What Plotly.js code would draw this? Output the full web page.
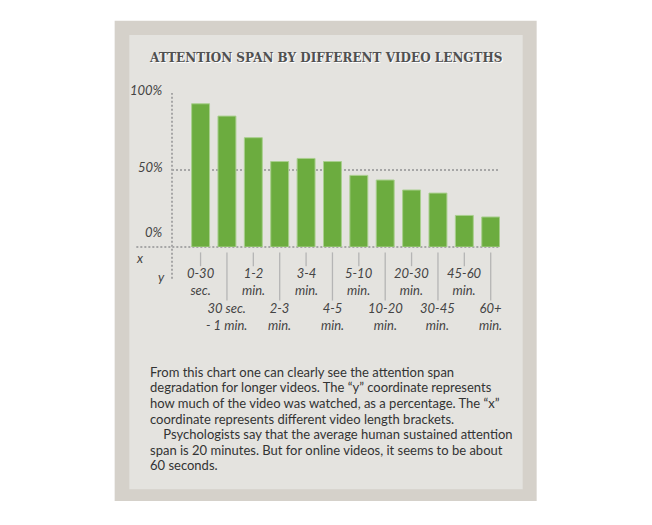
<!DOCTYPE html>
<html>
<head>
<meta charset="utf-8">
<script src="https://cdn.plot.ly/plotly-3.0.1.min.js"></script>
<style>
  html, body { margin: 0; padding: 0; background: #ffffff; }
  #chart { width: 652px; height: 525px; }
</style>
</head>
<body>
<div id="chart"></div>
<script>
// ---- data ----
var categories = ["0-30 sec.", "30 sec. - 1 min.", "1-2 min.", "2-3 min.", "3-4 min.", "4-5 min.",
                  "5-10 min.", "10-20 min.", "20-30 min.", "30-45 min.", "45-60 min.", "60+ min."];
var watchedPct = [93, 85, 71, 55.5, 57.5, 55.5, 46.5, 43.5, 37, 35, 20.5, 19.5];
var labelLine1 = ["0-30", "30 sec.", "1-2", "2-3", "3-4", "4-5", "5-10", "10-20", "20-30", "30-45", "45-60", "60+"];
var labelLine2 = ["sec.", "- 1 min.", "min.", "min.", "min.", "min.", "min.", "min.", "min.", "min.", "min.", "min."];
var yTickVals = [0, 50, 100];
var yTickText = ["0%", "50%", "100%"];
var titleText = "ATTENTION SPAN BY DIFFERENT VIDEO LENGTHS";
var bodyLines = [
  "From this chart one can clearly see the attention span",
  "degradation for longer videos. The \u201cy\u201d coordinate represents",
  "how much of the video was watched, as a percentage. The \u201cx\u201d",
  "coordinate represents different video length brackets.",
  "\u00a0\u00a0\u00a0\u00a0Psychologists say that the average human sustained attention",
  "span is 20 minutes. But for online videos, it seems to be about",
  "60 seconds."
];

// ---- geometry (pixels) ----
var W = 652, H = 525;
var plotL = 171.7, plotR = 500, plotT = 93, plotB = 247.3;
var plotW = plotR - plotL, plotH = plotB - plotT;
function px(x) { return (x - plotL) / plotW; }
function py(y) { return (plotB - y) / plotH; }

var pitch = 26.4, firstCenter = 200.3;
var r0 = (plotL - firstCenter) / pitch;
var r1 = r0 + plotW / pitch;

var grey = '#a6a6a6';
var labelFont = {family: 'Lato, "Open Sans", sans-serif', size: 13, color: '#444444', style: 'italic'};

var shapes = [
  // outer frame
  {type: 'rect', xref: 'paper', yref: 'paper', x0: px(114.3), x1: px(536.7), y0: py(20.7), y1: py(501.7),
   fillcolor: '#d5d1ca', line: {width: 0}, layer: 'below'},
  // inner panel
  {type: 'rect', xref: 'paper', yref: 'paper', x0: px(129), x1: px(522.7), y0: py(35), y1: py(490),
   fillcolor: '#e4e3df', line: {width: 0}, layer: 'below'},
  // zero line extension to the left
  {type: 'line', xref: 'paper', yref: 'paper', x0: px(136), x1: px(500), y0: 0, y1: 0,
   line: {color: grey, width: 2, dash: '2px,2px'}, layer: 'below'},
  // vertical dotted axis line
  {type: 'line', xref: 'paper', yref: 'paper', x0: 0, x1: 0, y0: py(279), y1: 1,
   line: {color: grey, width: 2, dash: '2px,2px'}, layer: 'below'}
];

var annotations = [];
// y tick labels
var yLabelShift = {0: 15, 50: 3, 100: 3};
for (var i = 0; i < yTickVals.length; i++) {
  annotations.push({xref: 'paper', yref: 'y', x: px(165), y: yTickVals[i], xanchor: 'right', yanchor: 'middle',
    yshift: yLabelShift[yTickVals[i]], text: yTickText[i], showarrow: false, font: labelFont});
}
// x / y tiny markers
annotations.push({xref: 'paper', yref: 'paper', x: px(140), y: py(258), xanchor: 'center', yanchor: 'middle',
  text: 'x', showarrow: false, font: labelFont});
annotations.push({xref: 'paper', yref: 'paper', x: px(161.5), y: py(277), xanchor: 'center', yanchor: 'middle',
  text: 'y', showarrow: false, font: labelFont});

// category labels and tick marks (alternating rows)
for (var j = 0; j < categories.length; j++) {
  var upperRow = (j % 2 === 0);
  var rowY = upperRow ? 282 : 316.5;
  annotations.push({xref: 'x', yref: 'paper', x: categories[j], y: py(rowY), xanchor: 'center', yanchor: 'middle',
    text: labelLine1[j] + '<br>' + labelLine2[j], align: 'center', showarrow: false, font: labelFont});
  shapes.push({type: 'line', xref: 'x', yref: 'paper', x0: categories[j], x1: categories[j],
    y0: py(252.7), y1: py(upperRow ? 266.5 : 301), line: {color: '#b5b5b5', width: 1.3}});
}

// title
annotations.push({xref: 'paper', yref: 'paper', x: px(326), y: py(57.5), xanchor: 'center', yanchor: 'middle',
  text: '<b>' + titleText + '</b>', showarrow: false,
  font: {family: '"DejaVu Serif", serif', size: 12, color: '#505050', shadow: '1px 1px 0px #ffffff'}});

// body text
for (var k = 0; k < bodyLines.length; k++) {
  annotations.push({xref: 'paper', yref: 'paper', x: px(148), y: py(372.5 + k * 15.55), xanchor: 'left', yanchor: 'middle',
    text: bodyLines[k], showarrow: false,
    font: {family: 'Lato, "Open Sans", sans-serif', size: 13, color: '#333333'}});
}

var trace = {
  type: 'bar',
  x: categories,
  y: watchedPct,
  marker: {color: '#6cac3f', line: {color: '#a9cf8e', width: 1}},
  hoverinfo: 'none'
};

var layout = {
  width: W, height: H,
  margin: {l: plotL, r: W - plotR, t: plotT, b: H - plotB, pad: 0},
  paper_bgcolor: '#ffffff',
  plot_bgcolor: 'rgba(0,0,0,0)',
  showlegend: false,
  bargap: 0.32,
  xaxis: {type: 'category', categoryorder: 'array', categoryarray: categories,
          range: [r0, r1], showticklabels: false, ticks: '', showgrid: false, zeroline: false, showline: false,
          fixedrange: true},
  yaxis: {range: [0, 100], tickvals: yTickVals, showticklabels: false, ticks: '',
          showgrid: true, gridcolor: grey, gridwidth: 2, griddash: '2px,2px',
          zeroline: false, showline: false, fixedrange: true, layer: 'below traces'},
  shapes: shapes,
  annotations: annotations
};

Plotly.newPlot('chart', [trace], layout, {displayModeBar: false, staticPlot: true});
</script>
</body>
</html>
